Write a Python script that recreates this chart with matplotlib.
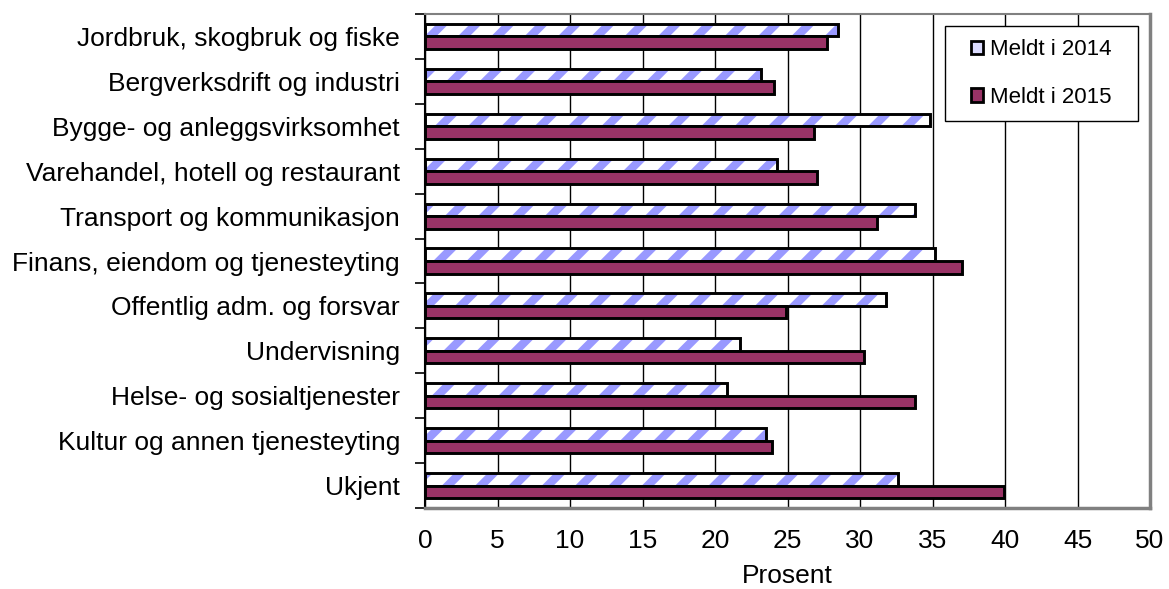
import matplotlib
matplotlib.use("Agg")
import matplotlib.pyplot as plt
from matplotlib.patches import Patch, Rectangle
import numpy as np

categories = [
    "Jordbruk, skogbruk og fiske",
    "Bergverksdrift og industri",
    "Bygge- og anleggsvirksomhet",
    "Varehandel, hotell og restaurant",
    "Transport og kommunikasjon",
    "Finans, eiendom og tjenesteyting",
    "Offentlig adm. og forsvar",
    "Undervisning",
    "Helse- og sosialtjenester",
    "Kultur og annen tjenesteyting",
    "Ukjent",
]
meldt_2014 = [28.5, 23.2, 34.8, 24.3, 33.8, 35.2, 31.8, 21.7, 20.8, 23.5, 32.6]
meldt_2015 = [27.7, 24.1, 26.8, 27.0, 31.2, 37.0, 24.9, 30.3, 33.8, 23.9, 39.9]
series_labels = ["Meldt i 2014", "Meldt i 2015"]
x_ticks = [0, 5, 10, 15, 20, 25, 30, 35, 40, 45, 50]

plt.rcParams['font.family'] = ['Liberation Sans', 'DejaVu Sans']
plt.rcParams['hatch.linewidth'] = 6.0

fig = plt.figure(figsize=(11.69, 5.89), dpi=100)
ax = fig.add_axes([425/1169, 1 - 508/589, (1150-425)/1169, (508-14)/589])

y = np.arange(len(categories))
h = 0.28
plum = "#993366"
stripe = "#9999FF"

# 2014: hatched fill then black outline
hb = ax.barh(y - h/2, meldt_2014, height=h, color="white", edgecolor=stripe,
             hatch="/", linewidth=0, zorder=3)
for p in hb:
    if hasattr(p, "set_hatch_linewidth"):
        p.set_hatch_linewidth(6.0)
ax.barh(y - h/2, meldt_2014, height=h, fill=False, edgecolor="black",
        linewidth=2.1, zorder=4)
# 2015
ax.barh(y + h/2, meldt_2015, height=h, color=plum, edgecolor="black",
        linewidth=2.1, zorder=4)

ax.set_xlim(0, 50)
ax.set_ylim(len(categories) - 0.5, -0.5)
ax.set_xticks(x_ticks)
ax.set_xticklabels([str(t) for t in x_ticks])
ax.tick_params(axis='x', length=0, pad=15, labelsize=19)

ax.set_yticks(np.arange(-0.5, len(categories), 1.0))
ax.set_yticklabels([])
ax.set_yticks(y, minor=True)
ax.set_yticklabels(categories, minor=True)
ax.tick_params(axis='y', which='major', length=7, width=1.2, direction='out', color='black')
ax.tick_params(axis='y', which='minor', length=0, pad=18, labelsize=19)

ax.xaxis.grid(True, color='black', linewidth=1.0, zorder=0)
ax.set_axisbelow(True)

for s in ['top', 'right', 'bottom']:
    ax.spines[s].set_color('#808080')
    ax.spines[s].set_linewidth(1.5)
ax.spines['bottom'].set_linewidth(2.5)
ax.spines['right'].set_linewidth(2.5)
ax.spines['left'].set_color('black')
ax.spines['left'].set_linewidth(1.5)

ax.set_xlabel("Prosent", fontsize=19, labelpad=8)

# legend frame
frame = Rectangle((0.717, 0.783), 0.266, 0.193, transform=ax.transAxes,
                  facecolor='white', edgecolor='black', linewidth=1.0,
                  zorder=9, clip_on=False)
ax.add_patch(frame)
handles = [
    Patch(facecolor="#dcdcff", edgecolor="black", linewidth=2.0),
    Patch(facecolor=plum, edgecolor="black", linewidth=2.0),
]
leg = ax.legend(handles, series_labels, loc='center',
                bbox_to_anchor=(0.850, 0.8796),
                fontsize=16, frameon=False,
                handlelength=0.55, handleheight=0.55, handletextpad=0.3,
                labelspacing=1.2, borderpad=0, borderaxespad=0)
leg.set_zorder(10)

fig.savefig("out.png", dpi=100)
